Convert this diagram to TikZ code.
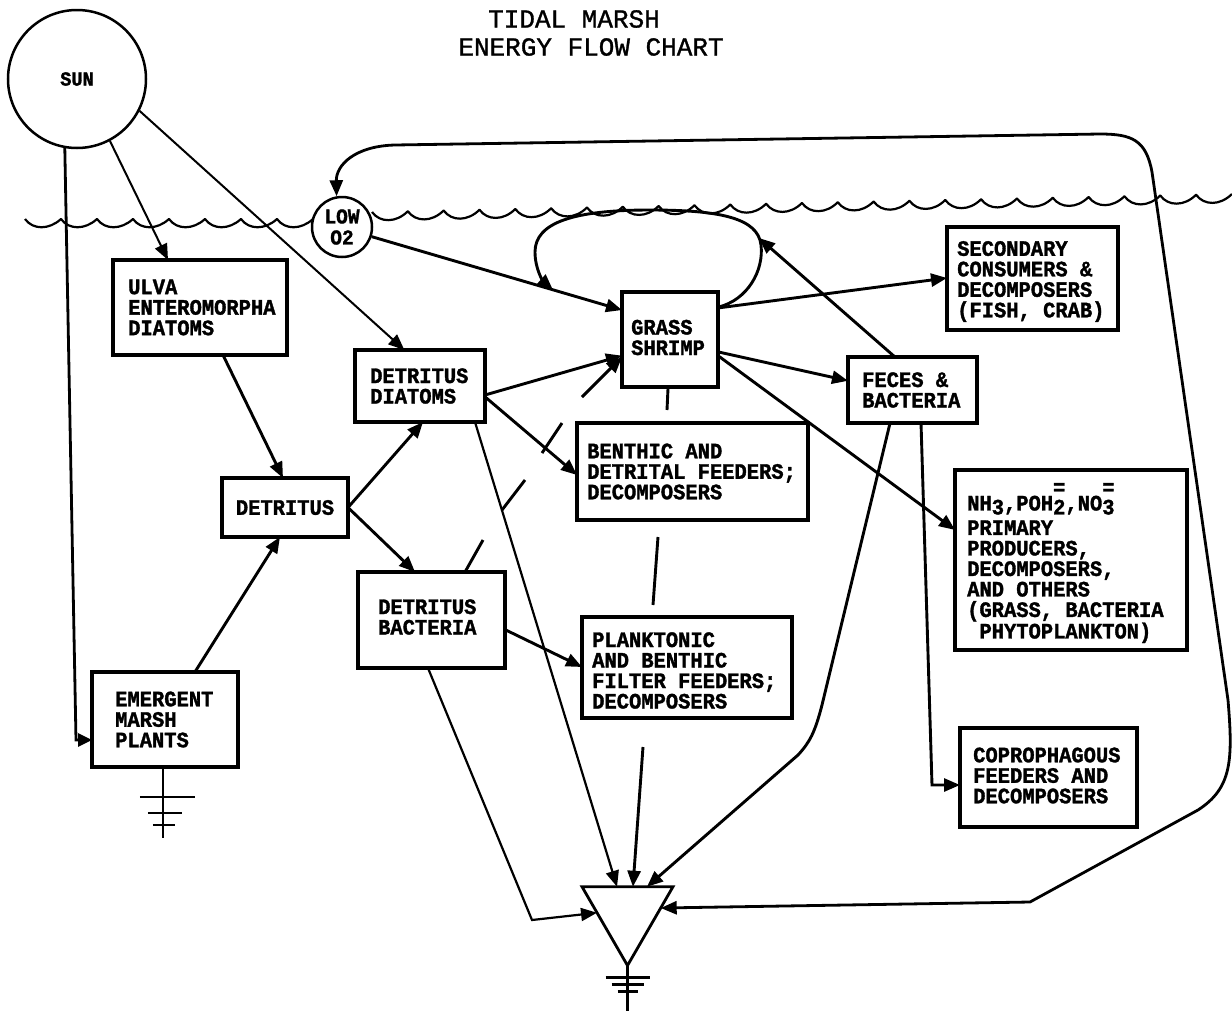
\documentclass[tikz,border=0pt]{standalone}
\usepackage{fontspec}
\newfontfamily\tw[FakeStretch=0.93, BoldFeatures={FakeBold=1.5}]{Liberation Mono}
\newfontfamily\ttl[FakeBold=1.2]{Liberation Mono}
\usetikzlibrary{arrows.meta,calc,shapes.geometric}
\begin{document}
\begin{tikzpicture}[x=1pt,y=-1pt,
  box/.style={draw, line width=3.2pt, fill=white, inner sep=0pt, outer sep=0pt},
  lbl/.style={font={\tw\bfseries\fontsize{22}{20.5}\selectfont}, align=left, anchor=west, inner sep=0pt},
  flow/.style={line width=2.9pt, -{Triangle[length=16pt,width=13pt]}},
  thinflow/.style={line width=2pt, -{Triangle[length=16pt,width=13pt]}},
  seg/.style={line width=2.9pt},
  wave/.style={line width=2.2pt, line join=round},
  ground/.style={line width=2.5pt}]
\useasboundingbox (0,0) rectangle (1232,1010);

% title
\node[font={\ttl\fontsize{26}{28}\selectfont}, inner sep=0pt] (t1) at (574,19) {TIDAL MARSH};
\node[font={\ttl\fontsize{26}{28}\selectfont}, inner sep=0pt] (t2) at (591,47) {ENERGY FLOW CHART};

% water surface
\draw[wave] (25,219) \foreach \i in {0,...,7} { .. controls ({25+36*\i+8},230) and ({25+36*\i+24},230) .. ({25+36*(\i+1)},219) };
\draw[wave] (372,212) \foreach \i in {0,...,23} { .. controls ({372+35.83*\i+8},{223-0.75*\i}) and ({372+35.83*\i+24},{223-0.75*\i}) .. ({372+35.83*(\i+1)},{212-0.75*(\i+1)}) };

% circles
\node[circle, draw, line width=2.5pt, minimum size=138pt, inner sep=0pt, font={\tw\bfseries\fontsize{20}{22}\selectfont}] (sun) at (77,79) {SUN};
\node[circle, draw, line width=2.5pt, minimum size=60pt, inner sep=0pt, fill=white, align=center, font={\tw\bfseries\fontsize{21}{21}\selectfont}] (o2) at (342,227) {LOW\\O2};

% boxes
\node[box, minimum width=174pt, minimum height=95pt] (ulva) at (200,307.5) {};
\node[lbl] at ($(ulva.west)+(15,0)$) {ULVA\\ENTEROMORPHA\\DIATOMS};
\node[box, minimum width=126pt, minimum height=59pt] (det) at (285,507.5) {};
\node[lbl, anchor=center] at (det.center) {DETRITUS};
\node[box, minimum width=130pt, minimum height=72pt] (dd) at (420,386) {};
\node[lbl] at ($(dd.west)+(15,0)$) {DETRITUS\\DIATOMS};
\node[box, minimum width=96pt, minimum height=95pt] (shrimp) at (670,339.5) {};
\node[lbl] at ($(shrimp.west)+(9,-2)$) {GRASS\\SHRIMP};
\node[box, minimum width=171pt, minimum height=103pt] (sec) at (1032.5,278.5) {};
\node[lbl] at ($(sec.west)+(10,3)$) {SECONDARY\\CONSUMERS \&\\DECOMPOSERS\\(FISH, CRAB)};
\node[box, minimum width=129pt, minimum height=66pt] (feces) at (912.5,390) {};
\node[lbl] at ($(feces.west)+(14,0)$) {FECES \&\\BACTERIA};
\node[box, minimum width=231pt, minimum height=97pt] (benthic) at (692.5,471.5) {};
\node[lbl] at ($(benthic.west)+(10,0)$) {BENTHIC AND\\DETRITAL FEEDERS;\\DECOMPOSERS};
\node[box, minimum width=147pt, minimum height=96pt] (db) at (431.5,620) {};
\node[lbl] at ($(db.west)+(20,-3)$) {DETRITUS\\BACTERIA};
\node[box, minimum width=210pt, minimum height=101pt] (plank) at (687,667.5) {};
\node[lbl] at ($(plank.west)+(10,3)$) {PLANKTONIC\\AND BENTHIC\\FILTER FEEDERS;\\DECOMPOSERS};
\node[box, minimum width=232pt, minimum height=180pt] (nh) at (1071,560) {};
\node[lbl] at ($(nh.west)+(12,3)$) {NH\raisebox{-4pt}{3},POH\rlap{\raisebox{16pt}{=}}\raisebox{-4pt}{2},NO\rlap{\raisebox{16pt}{=}}\raisebox{-4pt}{3}\\[4pt]PRIMARY\\PRODUCERS,\\DECOMPOSERS,\\AND OTHERS\\(GRASS, BACTERIA\\\ PHYTOPLANKTON)};
\node[box, minimum width=177pt, minimum height=99pt] (copro) at (1048.5,777.5) {};
\node[lbl] at ($(copro.west)+(13,-2)$) {COPROPHAGOUS\\FEEDERS AND\\DECOMPOSERS};
\node[box, minimum width=146pt, minimum height=95pt] (emergent) at (165,719.5) {};
\node[lbl] at ($(emergent.west)+(23,0)$) {EMERGENT\\MARSH\\PLANTS};

% sink
\node[draw, line width=2.8pt, regular polygon, regular polygon sides=3, shape border rotate=180, minimum size=105pt, inner sep=0pt, outer sep=0pt, fill=white] (sink) at (627.5,913) {};

% grounds
\draw[ground] (sink.corner 1) -- ++(0,45);
\draw[ground] ($(sink.corner 1)+(-22,12)$) -- ++(44,0);
\draw[ground] ($(sink.corner 1)+(-16,19)$) -- ++(32,0);
\draw[ground] ($(sink.corner 1)+(-10,26)$) -- ++(20,0);
\coordinate (eg) at ($(emergent.south west)!0.486!(emergent.south east)$);
\draw[ground] (eg) -- ++(0,71);
\draw[ground] ($(eg)+(-23,30)$) -- ++(55,0);
\draw[ground] ($(eg)+(-15,46)$) -- ++(34,0);
\draw[ground] ($(eg)+(-10,58)$) -- ++(22,0);

% sun flows
\draw[thinflow] (sun.-62) -- ($(ulva.north west)!0.316!(ulva.north east)$);
\draw[thinflow] (sun.-27) -- ($(dd.north west)!0.38!(dd.north east)$);
\coordinate (sunbend) at (76,740);
\draw[line width=2.8pt, -{Triangle[length=14pt,width=13pt]}] (sun.260) -- (sunbend) -- (sunbend -| emergent.west);

% detritus chain
\draw[flow] ($(ulva.south west)!0.632!(ulva.south east)$) -- ($(det.north west)!0.484!(det.north east)$);
\draw[flow] ($(emergent.north west)!0.705!(emergent.north east)$) -- ($(det.south west)!0.46!(det.south east)$);
\draw[flow] (det.east) -- ($(dd.south west)!0.523!(dd.south east)$);
\draw[flow] (det.east) -- ($(db.north west)!0.388!(db.north east)$);

% to grass shrimp
\draw[flow] (o2.-18) -- ($(shrimp.north west)!0.19!(shrimp.south west)$);
\draw[flow] ($(dd.north east)!0.625!(dd.south east)$) -- ($(shrimp.north west)!0.67!(shrimp.south west)$);
\draw[flow] ($(dd.north east)!0.65!(dd.south east)$) -- ($(benthic.north west)!0.536!(benthic.south west)$);
\draw[flow, line width=2.2pt] ($(dd.south west)!0.923!(dd.south east)$) -- ($(sink.corner 3)!0.385!(sink.corner 2)$);
\draw[flow] ($(db.north east)!0.6!(db.south east)$) -- ($(plank.north west)!0.495!(plank.south west)$);
\coordinate (dbbend) at (532,920);
\draw[flow, line width=2.2pt] ($(db.south west)!0.476!(db.south east)$) -- (dbbend) -- ($(sink.corner 3)!0.33!(sink.corner 1)$);

% broken line detritus bacteria -> grass shrimp
\coordinate (b1) at (483,540);
\coordinate (b2) at (502,510);
\coordinate (b3) at (525,480);
\coordinate (b4) at (542,453);
\coordinate (b5) at (562,423);
\coordinate (b6) at (582,397);
\draw[seg] ($(db.north west)!0.728!(db.north east)$) -- (b1);
\draw[seg] (b2) -- (b3);
\draw[seg] (b4) -- (b5);
\draw[flow] (b6) -- ($(shrimp.north west)!0.684!(shrimp.south west)$);

% broken line grass shrimp -> sink
\coordinate (s1) at (667,410);
\coordinate (s2) at (658,537);
\coordinate (s3) at (653,605);
\coordinate (s4) at (643,747);
\draw[seg] ($(shrimp.south west)!0.48!(shrimp.south east)$) -- (s1);
\draw[seg] (s2) -- (s3);
\draw[flow] (s4) -- ($(sink.corner 3)!0.56!(sink.corner 2)$);

% from grass shrimp
\draw[flow] ($(shrimp.north east)!0.168!(shrimp.south east)$) -- ($(sec.north west)!0.495!(sec.south west)$);
\draw[flow] ($(shrimp.north east)!0.63!(shrimp.south east)$) -- ($(feces.north west)!0.36!(feces.south west)$);
\draw[flow] ($(shrimp.north east)!0.67!(shrimp.south east)$) -- ($(nh.north west)!0.333!(nh.south west)$);

% shrimp loop
\coordinate (loopR) at (759,238);
\draw[flow] ($(shrimp.north east)!0.16!(shrimp.south east)$) .. controls (748,300) and (764,270) .. (761,245) .. controls (758,218) and (720,210) .. (650,210) .. controls (575,210) and (535,222) .. (535,252) .. controls (535,270) and (544,282) .. (553,290);

% from feces
\draw[flow] ($(feces.north west)!0.364!(feces.north east)$) -- (loopR);
\coordinate (fcbend) at (932,785);
\draw[flow] ($(feces.south west)!0.566!(feces.south east)$) -- (fcbend) -- (fcbend -| copro.west);
\draw[flow] ($(feces.south west)!0.326!(feces.south east)$) -- (822,705) .. controls (815,732) and (810,742) .. (798,755) -- ($(sink.corner 3)!0.714!(sink.corner 2)$);

% feedback loop sink <-> low O2
\draw[line width=2.8pt, {Triangle[length=16pt,width=13pt]}-{Triangle[length=16pt,width=13pt]}]
  ($(sink.corner 2)!0.27!(sink.corner 1)$) -- (1030,902) -- (1198,810)
  .. controls (1232,788) and (1233,760) .. (1228,700) -- (1152,172)
  .. controls (1146,140) and (1132,134) .. (1100,134) -- (395,145)
  .. controls (355,146) and (336,165) .. (o2.100);
\end{tikzpicture}
\end{document}
